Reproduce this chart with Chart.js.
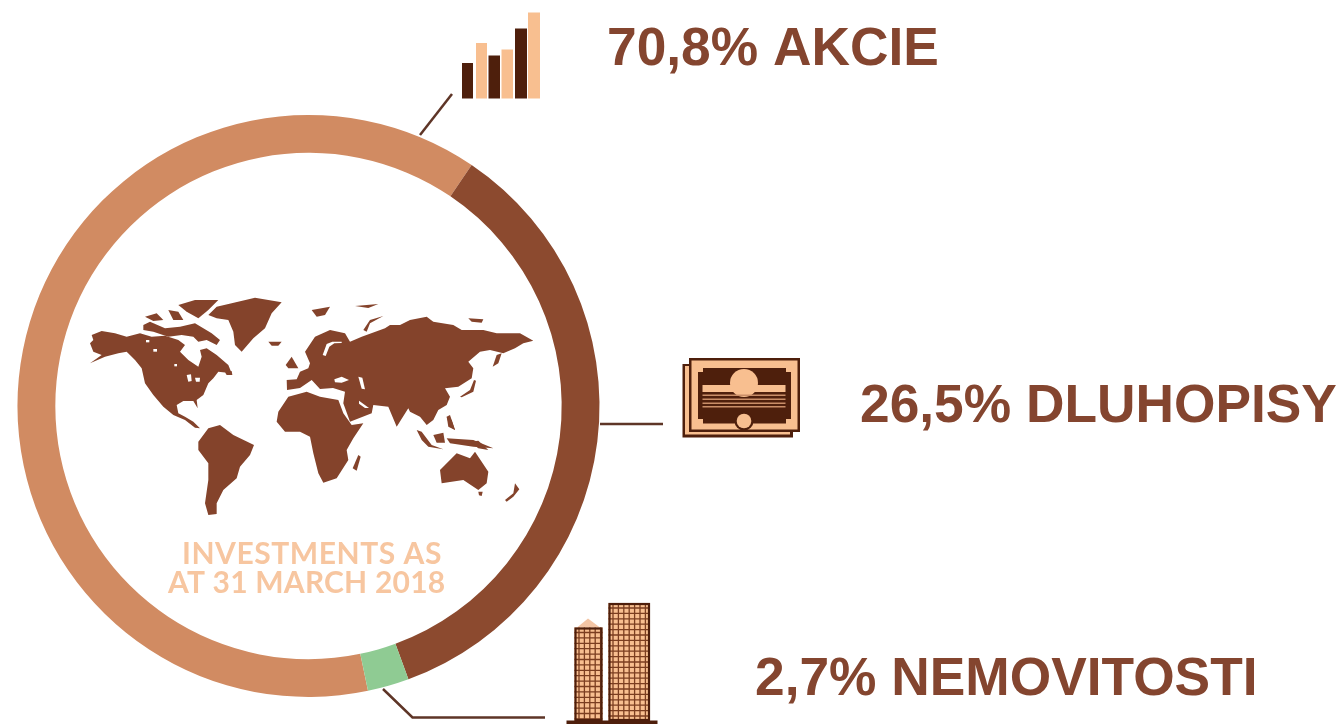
<!DOCTYPE html>
<html><head><meta charset="utf-8"><title>Investments</title>
<script src="https://cdn.jsdelivr.net/npm/chart.js@4"></script>
<style>html,body{margin:0;padding:0;background:#fff}canvas{display:block}</style></head>
<body><canvas id="c" width="1341" height="724"></canvas>
<script>
const categories = ["AKCIE", "DLUHOPISY", "NEMOVITOSTI"];
const printedLabels = ["70,8% AKCIE", "26,5% DLUHOPISY", "2,7% NEMOVITOSTI"];
// Arc shares as drawn in the picture (the ring is not to scale with its printed labels)
const arcShares = [62.75, 34.95, 2.3];
const arcColors = ["#D18B62", "#8C4A2F", "#8FCB93"];
const captionLines = ["INVESTMENTS AS", "AT 31 MARCH 2018"];

const TEXT = "#84452F", DARK = "#4E1F0C", LIGHT = "#F8BF90", LINE = "#5E3527", MAP = "#84432B";

// decorative world map outlines: groups of [originX, originY, scale, polygons]
const landGroups = [
 [85, 295, 3, [
  [20,120,50,108,90,115,125,125,165,115,200,125,240,122,280,135,300,150,285,170,310,195,340,215,350,185,345,165,365,160,395,180,430,210,440,235,400,230,385,250,370,265,355,300,335,315,338,340,325,318,295,318,275,330,280,355,300,365,325,380,345,400,330,398,300,375,265,360,235,335,205,300,180,265,170,220,150,195,125,170,100,175,60,185,15,205,50,180,25,170,15,145,25,135],
  [175,90,195,80,240,100,285,95,330,85,380,115,405,135,395,150,365,135,340,140,325,125,290,120,250,125,205,110,175,105],
  [180,65,215,55,235,75,205,78],[250,45,280,50,295,75,265,75],[280,30,330,15,400,15,370,45,340,70,305,50],
  [370,60,395,35,440,25,510,8,590,22,560,55,540,100,505,130,470,170,450,150,445,110,430,75,395,70],
  [550,140,590,140,580,152,560,152],[420,232,440,228,442,240,425,240]
 ]],
 [0, 0, 1, [
  [286.7,380,296.7,379.3,300,371.7,308.3,368.3,310,363.3,305,351.7,315,336.7,330,330,345,333.3,350,341.7,361.7,336.7,385,328.3,390,325,400,325,410,320,426.7,316.7,433.3,321.7,453.3,325,461.7,330,483.3,330,496.7,333.3,520,333.3,533.3,340.7,523.3,343.3,515,348.3,503.3,353.3,490,350,480,351.7,468.3,361.7,473.3,368.3,471.7,378.3,458.3,386.7,445,388.3,450,396.7,446.7,405,438.3,410,433.3,420,426.7,425,420,416.7,410,411.7,408.3,408.3,396.7,426.7,388.3,406.7,373.3,405,371.7,413.3,350,421.7,343.3,403.3,345,391.7,333,388,320,389,311.7,380,300,388,287,390]
 ]],
 [275, 300, 3, [
  [110,30,165,20,150,45,125,50],[240,18,310,12,280,24],[265,90,285,60,325,48,285,70,275,95],
  [32,195,50,170,70,205,40,205]
 ]],
 [400, 310, 3, [
  [180,260,210,240,222,210,228,212,220,245,185,262],[278,170,290,135,305,130,295,160],[140,320,150,315,165,360,150,350],[205,25,250,28,245,38,215,35]
 ]],
 [80, 290, 3, [
  [355,455,385,415,420,405,460,435,522,465,510,495,480,530,470,565,430,600,410,640,410,672,385,675,375,640,385,570,385,520,355,480],
  [595,365,625,320,680,305,720,320,775,330,790,370,815,405,850,400,820,445,800,480,805,510,770,565,730,578,715,550,700,490,690,440,660,425,615,425,590,395],
  [1010,420,1025,425,1055,465,1090,478,1045,470,1025,450],[1060,435,1090,428,1095,458,1070,458],[1100,445,1180,450,1240,475,1180,470,1110,460],[1100,380,1115,390,1125,420,1105,410],[1170,455,1195,452,1225,480,1195,475],
  [1080,540,1130,490,1170,505,1185,485,1225,545,1220,580,1195,600,1150,570,1085,580],[1195,605,1208,605,1205,618,1197,616],
  [818,535,835,495,842,500,830,542],[1275,630,1300,610,1305,580,1318,598,1300,620,1280,635]
 ]]
];
// seas, lakes and straits cut out of the land
const waterGroups = [
 [85, 295, 3, [
  [183,135,193,135,193,142,183,142],[205,162,216,162,216,170,205,170],[268,207,276,207,276,214,268,214],
  [305,240,318,238,320,258,310,260],[330,248,345,248,344,260,333,260]
 ]],
 [275, 300, 3, [
  [143,165,155,132,172,125,200,125,200,129,178,130,163,140,152,168],
  [178,238,200,230,222,240,200,248,180,247],[250,230,262,233,270,268,260,266],[252,302,282,324,270,324,252,311]
 ]]
];

function tracePolys(ctx, groups) {
  groups.forEach(g => g[3].forEach(p => { ctx.beginPath();
    for (let i = 0; i < p.length; i += 2) { const x = g[0] + p[i] / g[2], y = g[1] + p[i + 1] / g[2]; i ? ctx.lineTo(x, y) : ctx.moveTo(x, y); }
    ctx.closePath(); ctx.fill(); }));
}
function drawMap(ctx) {
  ctx.fillStyle = MAP; tracePolys(ctx, landGroups);
  ctx.fillStyle = "#FFFFFF"; tracePolys(ctx, waterGroups);
}
function line(ctx, pts, w) {
  ctx.strokeStyle = LINE; ctx.lineWidth = w; ctx.lineJoin = "miter"; ctx.beginPath();
  pts.forEach((p, i) => i ? ctx.lineTo(p[0], p[1]) : ctx.moveTo(p[0], p[1])); ctx.stroke();
}
function rect(ctx, c, x0, y0, x1, y1) { ctx.fillStyle = c; ctx.fillRect(x0, y0, x1 - x0, y1 - y0); }
function circle(ctx, c, x, y, r) { ctx.fillStyle = c; ctx.beginPath(); ctx.arc(x, y, r, 0, Math.PI * 2); ctx.fill(); }

function drawBarsIcon(ctx) {
  [[462,473,63],[488.5,500,55.5],[515,527,28.5]].forEach(b => rect(ctx, DARK, b[0], b[2], b[1], 98.5));
  [[476,487,43],[501.5,513,49.5],[528,540,12.5]].forEach(b => rect(ctx, LIGHT, b[0], b[2], b[1], 98.5));
}
function drawCertificate(ctx) {
  rect(ctx, DARK, 682.5, 364, 793, 437.5);
  rect(ctx, LIGHT, 685, 366, 790, 434.5);
  rect(ctx, DARK, 689, 358, 800, 432);
  rect(ctx, LIGHT, 691.5, 360.5, 797.5, 429.5);
  ctx.fillStyle = DARK; ctx.beginPath();
  [[703,368],[786,368],[786,372],[791,372],[791,419],[786,419],[786,423.5],[703,423.5],[703,419],[698,419],[698,372],[703,372]]
    .forEach((p, i) => i ? ctx.lineTo(p[0], p[1]) : ctx.moveTo(p[0], p[1])); ctx.closePath(); ctx.fill();
  circle(ctx, LIGHT, 744, 383, 14);
  rect(ctx, LIGHT, 702.5, 385, 785.5, 392);
  [394.5, 398.5, 402.5, 406].forEach(y => rect(ctx, "#C98E68", 702.5, y, 785.5, y + 1.5));
  circle(ctx, DARK, 744, 421, 9.5);
  circle(ctx, LIGHT, 744, 421, 7.3);
}
function drawTower(ctx, x0, y0, x1, y1) {
  rect(ctx, LIGHT, x0, y0, x1, y1);
  ctx.strokeStyle = "#7B3E20"; ctx.lineWidth = 1.3; ctx.beginPath();
  for (let x = x0 + 4.5; x < x1 - 1; x += 5.4) { ctx.moveTo(x, y0); ctx.lineTo(x, y1); }
  for (let y = y0 + 5; y < y1; y += 5.4) { ctx.moveTo(x0, y); ctx.lineTo(x1, y); }
  ctx.stroke();
  ctx.strokeStyle = DARK; ctx.lineWidth = 2.2; ctx.strokeRect(x0 + 1, y0 + 1, x1 - x0 - 2, y1 - y0 - 2);
}
function drawBuildings(ctx) {
  ctx.fillStyle = "#F3C5A5"; ctx.beginPath(); ctx.moveTo(588, 618.5); ctx.lineTo(577, 627.5); ctx.lineTo(600, 627.5); ctx.closePath(); ctx.fill();
  drawTower(ctx, 574.5, 627.5, 602.5, 721);
  drawTower(ctx, 608.5, 603, 650, 721);
  rect(ctx, DARK, 566.5, 720.5, 657.5, 724);
}

const overlay = {
  id: "overlay",
  afterDraw(chart) {
    const ctx = chart.ctx;
    ctx.save();
    ctx.filter = "blur(0.6px)";
    drawMap(ctx);
    line(ctx, [[420,135],[452,94]], 2.5);
    line(ctx, [[600,424],[663,424]], 2.5);
    line(ctx, [[383,689],[412.5,717.5],[545,717.5]], 2.5);
    drawBarsIcon(ctx); drawCertificate(ctx); drawBuildings(ctx);
    ctx.textBaseline = "alphabetic"; ctx.textAlign = "left";
    ctx.filter = "blur(0.7px)";
    ctx.fillStyle = "#F7C6A0"; ctx.font = "700 30px Lato";
    ctx.letterSpacing = "0.55px";
    ctx.fillText(captionLines[0], 182, 564);
    ctx.letterSpacing = "0.2px";
    ctx.fillText(captionLines[1], 168, 593);
    ctx.letterSpacing = "0px";
    ctx.filter = "none";
    ctx.fillStyle = TEXT; ctx.font = "700 53.3px 'Liberation Sans'";
    ctx.fillText(printedLabels[0], 607, 65);
    ctx.fillText(printedLabels[1], 860, 422);
    ctx.fillText(printedLabels[2], 755, 695);
    ctx.restore();
  }
};

new Chart(document.getElementById("c"), {
  type: "doughnut",
  data: { labels: categories, datasets: [{ data: arcShares, backgroundColor: arcColors, borderWidth: 0 }] },
  options: {
    responsive: false, animation: false, rotation: 168.2, cutout: "87%",
    layout: { padding: { left: 17, right: 741, top: 115, bottom: 27 } },
    plugins: { legend: { display: false }, tooltip: { enabled: false } }
  },
  plugins: [overlay]
});
</script></body></html>
